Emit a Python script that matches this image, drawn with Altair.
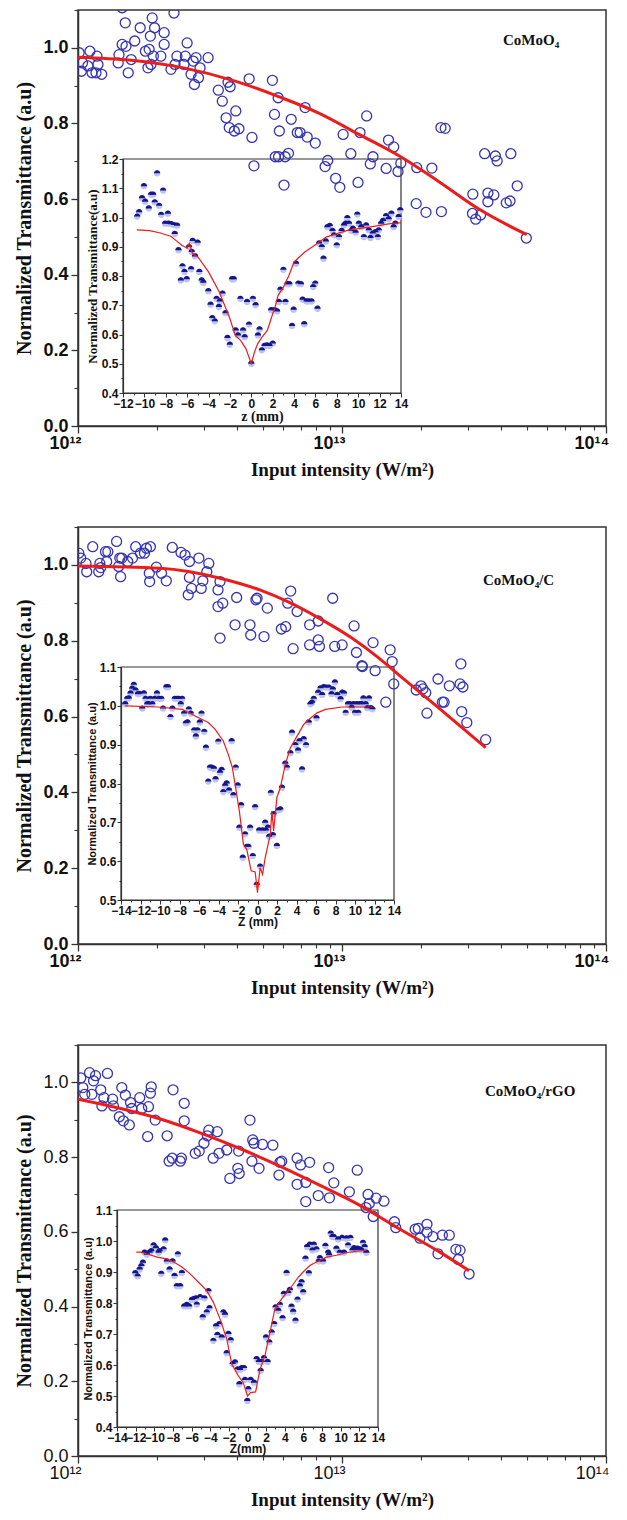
import altair as alt
import pandas as pd

SERIF = "Liberation Serif"
SANS = "Liberation Sans"
BLUE = "#3434b4"
RED = "#ee1b1b"
DARK = "#15158c"
LIGHT = "#bcc3ec"
AX = "#333333"

# ---------------- shared axis ticks / labels ----------------
X_MAJOR = [1, 10, 100]                       # intensity in units of 10^12 W/m^2
X_MAJOR_LABELS = ["10¹²", "10¹³", "10¹⁴"]
X_MINOR = [2, 3, 4, 5, 6, 7, 8, 9, 20, 30, 40, 50, 60, 70, 80, 90]
Y_MAJOR = [0.0, 0.2, 0.4, 0.6, 0.8, 1.0]
Y_MINOR = [0.1, 0.3, 0.5, 0.7, 0.9, 1.1]

# ---------------- panel 1 : CoMoO4 ----------------
p1_I = [1.01, 1.04, 1.03, 1.09, 1.11, 1.13, 1.18, 1.19, 1.23, 1.17,
        1.43, 1.42, 1.47, 1.52, 1.55, 1.51, 1.47, 1.59, 1.64, 1.72, 1.80, 1.84, 1.86, 1.88, 1.91, 1.93, 1.95, 1.89,
        2.06, 2.12, 2.12, 2.25, 2.31, 2.33, 2.37, 2.52, 2.55, 2.59, 2.68, 2.73, 2.76, 2.80, 2.86, 2.90, 3.11,
        3.40, 3.52, 3.64, 3.70, 3.74, 3.77, 3.91, 3.96, 4.07, 4.45, 4.56, 4.64,
        5.45, 5.55, 5.59, 5.73, 5.79, 5.75, 6.03, 6.09, 6.27, 6.42, 6.77, 6.94, 7.25, 7.38, 7.92,
        8.63, 8.83, 9.46, 9.81, 10.1, 10.8, 11.5, 11.7, 12.4, 12.8, 13.1, 14.7, 15.0, 15.7, 16.3, 16.7,
        19.1, 19.2, 20.8, 21.9, 23.7, 23.8, 24.6,
        31.2, 31.3, 32.1, 33.5, 34.7, 35.7, 35.7, 37.6, 38.1, 38.7, 41.9, 43.3, 43.6, 46.1, 49.9]
p1_T = [0.987, 0.960, 0.938, 0.952, 0.991, 0.934, 0.978, 0.956, 0.930, 0.934,
        0.982, 0.960, 1.009, 1.004, 0.934, 1.066, 1.106, 0.969, 1.018, 1.053, 0.991, 0.947, 0.996, 1.031, 1.079, 0.978, 1.053, 0.956,
        0.978, 1.040, 1.009, 0.943, 1.092, 0.956, 0.978, 0.956, 0.978, 1.013, 0.930, 0.965, 0.903, 0.974, 0.921, 0.947, 0.974,
        0.888, 0.859, 0.815, 0.909, 0.789, 0.897, 0.780, 0.833, 0.786, 0.918, 0.763, 0.688,
        0.914, 0.824, 0.712, 0.868, 0.780, 0.712, 0.637, 0.712, 0.721, 0.811, 0.776, 0.776, 0.842, 0.764, 0.748,
        0.686, 0.702, 0.655, 0.631, 0.771, 0.720, 0.644, 0.776, 0.820, 0.693, 0.712, 0.681, 0.756, 0.738, 0.673, 0.695,
        0.588, 0.683, 0.565, 0.682, 0.789, 0.567, 0.787,
        0.562, 0.613, 0.547, 0.558, 0.720, 0.616, 0.593, 0.611, 0.714, 0.701, 0.590, 0.595, 0.720, 0.635, 0.497]
p1_fit_I = [1.0, 1.585, 2.512, 3.94, 5.75, 8.13, 11.6, 16.5, 23.3, 33.1, 50.1]
p1_fit_T = [0.975, 0.967, 0.947, 0.912, 0.871, 0.828, 0.771, 0.714, 0.646, 0.573, 0.506]

p1_z = [-10.67, -10.49, -10.22, -10.04, -9.93, -9.59, -9.37, -9.18, -9.03, -8.81, -8.62, -8.43, -8.25, -8.06, -7.80,
        -7.74, -7.50, -7.24, -7.16, -6.94,
        -6.81, -6.44, -6.25, -6.59, -6.04, -5.63, -5.82, -5.48, -5.02, -5.57, -5.26, -4.86, -4.64, -4.49, -4.02,
        -3.81, -3.65, -3.41, -3.25, -2.94, -3.03, -2.69, -2.41, -2.23, -2.01, -1.80, -1.64, -1.46, -1.24, -1.02,
        -0.77, -0.62, -0.40, -0.22, 0.0, 0.15, 0.40, 0.62, 0.77, 0.99, 1.24, 1.46, 1.70, 2.01, 1.86, 2.17, 2.41,
        2.57, 2.72, 3.00, 3.19, 3.37, 3.56, 3.81, 3.96, 4.18, 4.40, 4.64, 4.80, 4.95, 5.17, 5.36, 5.63, 5.79, 5.98,
        6.19, 6.35, 6.59, 6.75, 6.97, 7.12, 7.34, 7.59, 7.74, 7.99, 8.20, 8.45, 8.67, 8.82, 8.98, 9.13, 9.35, 9.50,
        9.75, 9.91, 10.06, 10.28, 10.53, 10.74, 10.99, 11.15, 11.36, 11.61, 11.83, 11.92, 12.14, 12.32, 12.60,
        12.85, 13.10, 13.31, 13.47, 13.78, 13.93]
p1_zT = [1.003, 1.018, 1.066, 1.107, 1.054, 1.031, 1.078, 1.078, 1.052, 1.151, 1.040, 1.009, 1.092, 0.979, 1.013,
         0.979, 0.977, 0.974, 0.944, 0.972,
         0.888, 0.833, 0.814, 0.785, 0.789, 0.823, 0.899, 0.920, 0.914, 0.882, 0.867, 0.814, 0.785, 0.777, 0.748,
         0.702, 0.656, 0.645, 0.722, 0.713, 0.694, 0.740, 0.673, 0.588, 0.565, 0.789, 0.789, 0.614, 0.597, 0.722,
         0.614, 0.591, 0.711, 0.634, 0.500, 0.722, 0.700, 0.597, 0.617, 0.546, 0.561, 0.563, 0.561, 0.569, 0.683, 0.683, 0.679,
         0.711, 0.753, 0.821, 0.711, 0.772, 0.772, 0.629, 0.685, 0.842, 0.774, 0.772, 0.719, 0.635, 0.713, 0.713, 0.713, 0.762, 0.774,
         0.688, 0.911, 0.899, 0.859, 0.918, 0.967, 0.971, 0.954, 0.939, 0.905, 0.933, 0.954, 0.973, 0.979, 0.998, 0.979, 0.954, 0.962,
         0.948, 1.010, 0.979, 0.967, 0.933, 0.973, 0.956, 0.930, 0.945, 0.950, 0.933, 0.956, 0.979, 0.988, 1.005,
         0.994, 1.013, 0.967, 0.979, 1.002, 1.025]
p1_zfit = [-10.7, -9.5, -8.5, -7.5, -7.0, -6.5, -6.0, -5.8, -5.5, -5.0, -4.5, -4.0, -3.5, -3.0, -2.5, -2.0, -1.5, -1.0,
           -0.5, 0.0, 0.3, 0.6, 1.0, 1.5, 2.0, 2.2, 2.5, 3.0, 3.5, 4.0, 4.5, 5.0, 6.0, 7.0, 8.0, 9.0, 10.0, 11.0,
           12.0, 13.0, 14.0]
p1_zfitT = [0.958, 0.955, 0.947, 0.935, 0.920, 0.905, 0.895, 0.912, 0.876, 0.865, 0.840, 0.814, 0.780, 0.745, 0.700,
            0.654, 0.597, 0.580, 0.551, 0.500, 0.540, 0.569, 0.591, 0.614, 0.671, 0.690, 0.734, 0.762, 0.800, 0.848,
            0.865, 0.882, 0.907, 0.933, 0.945, 0.956, 0.962, 0.967, 0.973, 0.979, 0.982]

# ---------------- panel 2 : CoMoO4/C ----------------
p2_I = [1.007, 1.024, 1.072, 1.079, 1.137, 1.198, 1.210, 1.219, 1.271, 1.297, 1.284, 1.400, 1.425, 1.440, 1.450,
        1.465, 1.543, 1.609, 1.654, 1.724, 1.785, 1.816, 1.862, 1.868, 1.880, 1.981, 2.072, 2.160, 2.276, 2.456,
        2.544, 2.615, 2.643, 2.643, 2.690, 2.870, 2.930, 2.971, 3.075, 3.129, 3.391, 3.391, 3.451, 3.451, 3.535,
        3.935, 3.990, 4.481, 4.511, 4.719, 4.768, 5.066, 5.214, 5.892, 6.120, 6.230, 6.392, 6.528, 6.760, 7.541,
        7.541, 8.129, 8.129, 8.214, 9.220, 9.383, 10.01, 11.11, 11.34, 11.90, 11.94, 13.11, 13.35, 14.65, 15.22,
        15.49, 15.70, 19.10, 19.91, 20.26, 20.76, 20.98, 23.10, 24.00, 24.36, 25.50, 28.0, 28.2, 28.4, 28.7, 29.7, 35.0]
p2_T = [1.031, 1.018, 1.004, 0.982, 1.048, 0.982, 1.004, 0.993, 1.035, 1.035, 1.009, 1.062, 0.996, 1.018, 0.969,
        1.018, 1.009, 1.018, 1.048, 1.031, 1.031, 1.044, 0.978, 0.956, 1.048, 0.994, 0.978, 0.958, 1.046, 1.033,
        1.026, 0.921, 1.009, 0.967, 0.938, 1.018, 0.938, 0.958, 0.982, 1.004, 0.934, 0.890, 0.956, 0.807, 0.899,
        0.842, 0.914, 0.842, 0.815, 0.908, 0.912, 0.811, 0.886, 0.831, 0.837, 0.899, 0.931, 0.779, 0.877, 0.842,
        0.789, 0.852, 0.802, 0.785, 0.912, 0.785, 0.789, 0.839, 0.769, 0.734, 0.732, 0.795, 0.721, 0.638, 0.776,
        0.745, 0.686, 0.670, 0.681, 0.673, 0.663, 0.609, 0.699, 0.638, 0.638, 0.681, 0.686, 0.739, 0.613, 0.678, 0.584, 0.539]
p2_fit_I = [1.0, 2.05, 3.45, 4.88, 6.23, 8.21, 10.9, 13.8, 16.4, 23.3, 35.0]
p2_fit_T = [0.997, 0.991, 0.965, 0.934, 0.903, 0.859, 0.807, 0.754, 0.710, 0.622, 0.518]

p2_z = [-13.57, -13.37, -13.20, -13.02, -12.85, -12.68, -12.51, -12.27, -12.10, -11.82, -11.65, -11.48, -11.31,
        -11.17, -11.00, -10.79, -10.55, -10.31, -10.10, -9.86, -9.69, -9.35, -9.18, -8.93, -8.73, -8.49, -8.25,
        -8.08, -7.87, -7.73, -7.53, -7.35, -7.18, -7.04, -6.84, -6.49, -6.32, -6.15, -5.91, -5.74, -5.46, -5.29,
        -5.05, -4.88, -4.71, -4.47, -4.30, -4.02, -3.85, -3.68, -3.51, -3.33, -3.16, -2.92, -2.65, -2.47, -2.23,
        -2.03, -1.86, -1.68, -1.51, -1.27, -1.10, -0.93, -0.76, -0.48, -0.24, -0.07, 0.27, 0.17, 0.52, 0.79, 0.86,
        1.07, 1.20, 1.37, 1.58, 1.65, 1.99, 2.16, 2.34, 2.51, 2.85, 3.02, 3.37, 3.54, 3.88, 4.16, 4.30, 4.57, 4.74,
        4.98, 5.26, 5.43, 5.60, 5.77, 6.05, 6.22, 6.46, 6.63, 6.80, 7.04, 7.32, 7.59, 7.73, 7.94, 8.18, 8.52, 8.69,
        8.87, 9.04, 9.28, 9.45, 9.66, 9.83, 10.00, 10.17, 10.34, 10.48, 10.69, 10.86, 11.10, 11.27, 11.44, 11.62, 11.79]
p2_zT = [1.004, 1.018, 1.019, 1.032, 1.044, 1.054, 1.040, 1.030, 1.031, 0.993, 1.032, 1.018, 1.004,
         1.004, 1.018, 1.004, 1.018, 1.032, 1.018, 1.018, 0.993, 1.048, 1.048, 0.971, 0.993, 1.018, 1.018,
         1.018, 1.004, 1.018, 0.980, 0.955, 0.957, 0.991, 0.980, 0.937, 0.921, 0.937, 0.957, 0.980, 0.933, 0.892,
         0.805, 0.841, 0.841, 0.838, 0.811, 0.908, 0.828, 0.835, 0.778, 0.794, 0.800, 0.782, 0.909, 0.770, 0.841,
         0.795, 0.686, 0.744, 0.609, 0.669, 0.637, 0.637, 0.686, 0.613, 0.739, 0.539, 0.586, 0.679, 0.679, 0.699, 0.679,
         0.686, 0.663, 0.776, 0.667, 0.721, 0.639, 0.731, 0.733, 0.789, 0.851, 0.841, 0.878, 0.931, 0.899, 0.885, 0.909, 0.836, 0.914,
         0.899, 0.957, 1.004, 1.008, 1.018, 0.968, 1.034, 1.045, 1.028, 1.048, 1.047, 1.047, 1.030, 1.042, 1.060, 1.028, 1.017, 1.034,
         1.032, 0.982, 1.004, 1.004, 0.995, 1.004, 0.982, 1.004, 0.982, 1.004, 1.004, 1.019, 1.004, 0.994, 1.019, 0.994, 0.991]
p2_zfit = [-13.57, -10.2, -7.7, -6.4, -5.05, -4.36, -3.5, -3.0, -2.58, -2.3, -1.86, -1.44, -1.1, -0.65, -0.24, 0.0,
           0.27, 0.52, 0.79, 1.31, 1.48, 1.65, 1.99, 2.34, 2.85, 3.37, 4.06, 4.74, 5.26, 6.12, 6.98, 8.69, 11.79]
p2_zfitT = [1.0, 0.997, 0.991, 0.974, 0.957, 0.940, 0.909, 0.875, 0.841, 0.798, 0.729, 0.643, 0.630, 0.575, 0.572,
            0.519, 0.583, 0.566, 0.609, 0.669, 0.729, 0.678, 0.764, 0.789, 0.849, 0.892, 0.922, 0.952, 0.965,
            0.982, 0.991, 0.997, 0.997]

# ---------------- panel 3 : CoMoO4/rGO ----------------
p3_I = [1.024, 1.043, 1.061, 1.106, 1.129, 1.145, 1.165, 1.219, 1.232, 1.253, 1.293, 1.352, 1.362, 1.434, 1.465,
        1.485, 1.511, 1.565, 1.581, 1.598, 1.713, 1.743, 1.836, 1.849, 1.880, 1.894, 1.961, 2.176, 2.214, 2.276,
        2.291, 2.441, 2.465, 2.526, 2.526, 2.781, 2.879, 3.00, 3.09, 3.13, 3.25, 3.37, 3.42, 3.66, 3.76, 4.03,
        4.06, 4.08, 4.48, 4.56, 4.59, 4.64, 4.85, 5.00, 5.47, 5.77, 5.82, 5.91, 6.76, 6.76, 6.97, 7.29, 7.29,
        7.54, 8.13, 8.90, 8.96, 9.31, 10.66, 11.42, 12.33, 12.55, 12.68, 13.13, 13.46, 14.42, 15.80, 15.99,
        18.93, 19.46, 19.73, 20.98, 20.98, 22.1, 23.1, 24.0, 25.5, 27.0, 27.6, 28.0, 30.3]
p3_T = [1.012, 0.986, 0.968, 1.026, 0.968, 1.004, 1.018, 0.980, 0.937, 0.959, 1.024, 0.955, 0.937, 0.908, 0.986,
        0.897, 0.966, 0.886, 0.946, 0.930, 0.959, 0.930, 0.855, 0.935, 0.971, 0.988, 0.899, 0.857, 0.789, 0.797,
        0.980, 0.789, 0.797, 0.944, 0.897, 0.810, 0.816, 0.837, 0.857, 0.872, 0.797, 0.868, 0.810, 0.819, 0.743, 0.770,
        0.816, 0.756, 0.899, 0.789, 0.846, 0.837, 0.770, 0.834, 0.832, 0.752, 0.786, 0.789, 0.727, 0.797, 0.779, 0.732, 0.681,
        0.786, 0.697, 0.772, 0.691, 0.731, 0.707, 0.765, 0.665, 0.700, 0.676, 0.641, 0.690, 0.682, 0.627, 0.611,
        0.607, 0.609, 0.583, 0.620, 0.599, 0.587, 0.541, 0.591, 0.591, 0.553, 0.526, 0.551, 0.487]
p3_fit_I = [1.0, 1.45, 2.05, 2.90, 4.10, 5.81, 8.22, 11.6, 16.4, 23.3, 30.3]
p3_fit_T = [0.955, 0.930, 0.902, 0.865, 0.823, 0.776, 0.725, 0.672, 0.609, 0.547, 0.496]

p3_z = [-12.04, -11.79, -11.57, -11.39, -11.22, -11.04, -10.79, -10.50, -10.32, -10.07, -9.83, -9.54, -9.43, -9.00,
        -8.83, -9.25, -8.65, -8.36, -8.04, -7.83, -7.58, -7.22, -7.47, -7.04, -6.79, -6.51, -6.26, -5.97, -5.72,
        -5.51, -5.44, -5.08, -4.80, -4.62, -4.37, -4.19, -4.08, -3.66, -3.37, -3.23, -3.02, -2.76, -2.59, -2.41,
        -2.23, -2.05, -1.80, -1.59, -1.34, -1.05, -0.80, -0.62, -0.37, -0.87, -0.27, 0.09, -0.02, 0.34, 0.70, 0.98,
        1.23, 1.52, 1.77, 2.16, 1.41, 1.98, 2.34, 2.59, 2.87, 3.01, 3.30, 3.48, 3.76, 3.90, 4.19, 4.37, 4.55, 4.72,
        4.90, 5.15, 5.37, 5.62, 5.80, 5.97, 6.22, 6.40, 6.58, 6.69, 6.97, 7.12, 7.40, 7.65, 7.76, 8.11, 8.36, 8.65,
        8.75, 8.93, 9.11, 9.25, 9.54, 9.72, 9.90, 10.15, 10.36, 10.61, 10.79, 11.04, 11.25, 11.43, 11.61, 11.79,
        12.04, 12.22, 12.39, 12.57, 12.75]
p3_zT = [0.896, 0.886, 0.908, 0.919, 0.930, 0.962, 0.956, 0.962, 0.967, 0.986, 0.977, 0.962, 0.967, 0.973,
         1.002, 0.894, 0.934, 0.908, 0.934, 0.887, 0.854, 0.854, 0.957, 0.897, 0.789, 0.794, 0.789, 0.810, 0.813,
         0.815, 0.795, 0.819, 0.754, 0.815, 0.770, 0.838, 0.783, 0.678, 0.725, 0.697, 0.732, 0.689, 0.770, 0.762,
         0.638, 0.700, 0.680, 0.603, 0.608, 0.586, 0.584, 0.590, 0.590, 0.538, 0.552, 0.522, 0.484, 0.552, 0.543, 0.619,
         0.610, 0.610, 0.622, 0.610, 0.581, 0.689, 0.673, 0.705, 0.732, 0.786, 0.775, 0.794, 0.751, 0.829, 0.897, 0.832, 0.842, 0.788,
         0.772, 0.743, 0.811, 0.854, 0.867, 0.835, 0.943, 0.981, 0.896, 0.988, 0.970, 0.988, 0.973, 0.934, 0.945, 0.934, 0.984, 0.962,
         0.954, 1.024, 1.013, 1.013, 0.975, 1.005, 0.962, 1.010, 0.962, 1.008, 0.986, 1.010, 0.970, 0.977, 0.970, 0.975,
         0.973, 0.970, 0.994, 0.981, 0.962]
p3_zfit = [-11.93, -11.5, -10.8, -9.7, -8.83, -7.9, -7.04, -6.15, -5.26, -4.37, -3.66, -2.94, -2.23, -1.69, -0.98,
           -0.45, 0.0, 0.34, 0.87, 1.34, 1.87, 2.41, 2.94, 3.66, 4.55, 5.44, 5.97, 6.69, 7.4, 8.47, 9.54, 10.6, 11.7, 12.75]
p3_zfitT = [0.964, 0.964, 0.959, 0.948, 0.943, 0.932, 0.916, 0.894, 0.867, 0.840, 0.802, 0.748, 0.684, 0.603, 0.565,
            0.543, 0.500, 0.511, 0.513, 0.586, 0.630, 0.705, 0.781, 0.813, 0.846, 0.883, 0.900, 0.921, 0.932, 0.948,
            0.954, 0.962, 0.967, 0.970]


def x_label_expr():
    expr = "''"
    for v, lab in reversed(list(zip(X_MAJOR, X_MAJOR_LABELS))):
        expr = f"datum.value == {v} ? '{lab}' : ({expr})"
    return expr


def minor_axis(orient, values, size, offset=0):
    return alt.Axis(orient=orient, values=values, labels=False, title=None, domain=False, tickSize=size,
                    offset=offset, tickWidth=1.1, grid=False)


def make_panel(I, T, fI, fT, z, zT, zf, zfT, label, label_xy, W, H,
               zdom, zrange, tdom, trange, zmaj, zmin, tmaj, tmin, ztitle, ttitle,
               inset_title_font, inset_title_size, main_weight):
    xs = alt.Scale(type="log", domain=[1, 100], nice=False)
    ys = alt.Scale(domain=[0, 1.1], nice=False, zero=False)
    xaxis = alt.Axis(orient="bottom", values=X_MAJOR, labelExpr=x_label_expr(), tickSize=7,
                     title="Input intensity (W/m²)", titleFont=SERIF, titleFontWeight="bold", titleFontSize=19,
                     titlePadding=8, labelFont=SANS, labelFontWeight=main_weight, labelFontSize=18,
                     labelAlign="right", labelOffset=3,
                     labelFlush=False, labelOverlap=False, labelPadding=1, domainWidth=1.5, tickWidth=1.3)
    yaxis = alt.Axis(orient="left", values=Y_MAJOR, format=".1f",
                     tickSize=7, title="Normalized Transmittance (a.u)", titleFont=SERIF,
                     titleFontWeight="bold", titleFontSize=20, titlePadding=8, labelFont=SANS,
                     labelFontWeight=main_weight, labelFontSize=18, labelFlush=False, labelOverlap=False,
                     labelPadding=3, domainWidth=1.5, tickWidth=1.3)
    mdf = pd.DataFrame({"I": I, "T": T})
    fdf = pd.DataFrame({"I": fI, "T": fT})
    pts = alt.Chart(mdf).mark_point(shape="circle", filled=False, size=100, strokeWidth=1.3, color=BLUE,
                                    opacity=1, clip=True).encode(
        x=alt.X("I:Q", scale=xs, axis=xaxis), y=alt.Y("T:Q", scale=ys, axis=yaxis))
    fit = alt.Chart(fdf).mark_line(color=RED, strokeWidth=3, interpolate="monotone", clip=True).encode(
        x=alt.X("I:Q", scale=xs, axis=None), y=alt.Y("T:Q", scale=ys, axis=None))
    txt = alt.Chart(pd.DataFrame({"t": [label]})).mark_text(
        align="left", baseline="middle", font=SERIF, fontWeight="bold", fontSize=15, color="#111").encode(
        x=alt.value(label_xy[0]), y=alt.value(label_xy[1]), text="t:N")
    main_minor = alt.Chart(mdf).mark_point(opacity=0, clip=True).encode(
        x=alt.X("I:Q", scale=xs, axis=minor_axis("bottom", X_MINOR, 4)),
        y=alt.Y("T:Q", scale=ys, axis=minor_axis("left", Y_MINOR, 4)))

    zx = alt.Scale(domain=zdom, range=zrange, nice=False, zero=False)
    zy = alt.Scale(domain=tdom, range=trange, nice=False, zero=False)
    xoff = -(H - trange[0])
    yoff = -zrange[0]
    zxaxis = alt.Axis(orient="bottom", offset=xoff, values=zmaj, format="d", tickSize=4,
                      title=ztitle, titleFont=inset_title_font, titleFontWeight="bold",
                      titleFontSize=inset_title_size + 1, titlePadding=0, labelFont=SANS, labelFontWeight="bold",
                      labelFontSize=12, labelPadding=1, labelFlush=False, labelOverlap=False, domainWidth=1.2)
    zyaxis = alt.Axis(orient="left", offset=yoff, values=tmaj, format=".1f", tickSize=4,
                      title=ttitle, titleFont=inset_title_font, titleFontWeight="bold",
                      titleFontSize=inset_title_size, titlePadding=2, labelFont=SANS, labelFontWeight="bold",
                      labelFontSize=12, labelPadding=1, labelFlush=False, labelOverlap=False, domainWidth=1.2)
    box = alt.Chart(pd.DataFrame({"x0": [zdom[0]], "x1": [zdom[1]], "y0": [tdom[0]], "y1": [tdom[1]]})).mark_rect(
        fill="white", fillOpacity=0, stroke=AX, strokeWidth=1.2).encode(
        x=alt.X("x0:Q", scale=zx, axis=None), x2="x1:Q", y=alt.Y("y0:Q", scale=zy, axis=None), y2="y1:Q")
    zdf = pd.DataFrame({"z": z, "T": zT})
    zfdf = pd.DataFrame({"z": zf, "T": zfT})
    zline = alt.Chart(zfdf).mark_line(color=RED, strokeWidth=1.2).encode(
        x=alt.X("z:Q", scale=zx, axis=None), y=alt.Y("T:Q", scale=zy, axis=None))
    dots_l = alt.Chart(zdf).mark_point(shape="circle", filled=True, size=40, color=LIGHT, opacity=1).encode(
        x=alt.X("z:Q", scale=zx, axis=zxaxis), y=alt.Y("T:Q", scale=zy, axis=zyaxis))
    dots_d = alt.Chart(zdf).mark_point(shape="M-1,0A1,1,0,0,1,1,0Z", filled=True, size=40, color=DARK,
                                       opacity=1).encode(
        x=alt.X("z:Q", scale=zx, axis=None), y=alt.Y("T:Q", scale=zy, axis=None))
    inset_minor = alt.Chart(zdf).mark_point(opacity=0, clip=True).encode(
        x=alt.X("z:Q", scale=zx, axis=minor_axis("bottom", zmin, 2, xoff)),
        y=alt.Y("T:Q", scale=zy, axis=minor_axis("left", tmin, 2, yoff)))

    return alt.layer(box, dots_l, dots_d, zline, inset_minor, pts, fit, txt, main_minor).resolve_scale(
        x="independent", y="independent").properties(width=W, height=H)


ZMAJ_A = list(range(-12, 15, 2))
ZMIN_A = list(range(-11, 14, 2))
ZMAJ_B = list(range(-14, 15, 2))
ZMIN_B = list(range(-13, 14, 2))
TMAJ_1 = [0.4, 0.5, 0.6, 0.7, 0.8, 0.9, 1.0, 1.1, 1.2]
TMIN_1 = [0.45, 0.55, 0.65, 0.75, 0.85, 0.95, 1.05, 1.15]
TMAJ_2 = [0.5, 0.6, 0.7, 0.8, 0.9, 1.0, 1.1]
TMIN_2 = [0.55, 0.65, 0.75, 0.85, 0.95, 1.05]
TMAJ_3 = [0.4, 0.5, 0.6, 0.7, 0.8, 0.9, 1.0, 1.1]
TMIN_3 = [0.45, 0.55, 0.65, 0.75, 0.85, 0.95, 1.05]

p1 = make_panel(p1_I, p1_T, p1_fit_I, p1_fit_T, p1_z, p1_zT, p1_zfit, p1_zfitT, "CoMoO₄", (425, 30), 528, 416,
                [-12, 14], [45, 323], [0.4, 1.2], [383, 149], ZMAJ_A, ZMIN_A, TMAJ_1, TMIN_1, "z (mm)",
                "Normalized Transmittance(a.u)", SERIF, 13, "bold")
p2 = make_panel(p2_I, p2_T, p2_fit_I, p2_fit_T, p2_z, p2_zT, p2_zfit, p2_zfitT, "CoMoO₄/C", (405, 53), 528, 417,
                [-14, 14], [43, 316], [0.5, 1.1], [373, 140], ZMAJ_B, ZMIN_B, TMAJ_2, TMIN_2, "Z (mm)",
                "Normalized Transmittance (a.u)", SANS, 11, "bold")
p3 = make_panel(p3_I, p3_T, p3_fit_I, p3_fit_T, p3_z, p3_zT, p3_zfit, p3_zfitT, "CoMoO₄/rGO", (407, 46), 528, 411,
                [-14, 14], [39, 300], [0.4, 1.1], [382, 165], ZMAJ_B, ZMIN_B, TMAJ_3, TMIN_3, "Z(mm)",
                "Normalized Transmittance (a.u)", SANS, 11, "normal")

chart = alt.vconcat(p1, p2, p3, spacing=101, bounds="flush").properties(
    padding={"left": 6, "top": 0, "right": 5, "bottom": 0}
).configure_view(stroke=AX, strokeWidth=1.5).configure_axis(
    grid=False, domainColor=AX, tickColor=AX, labelColor="#111", titleColor="#111"
)

chart.save("out.html", embed_options={"renderer": "svg", "actions": False})
